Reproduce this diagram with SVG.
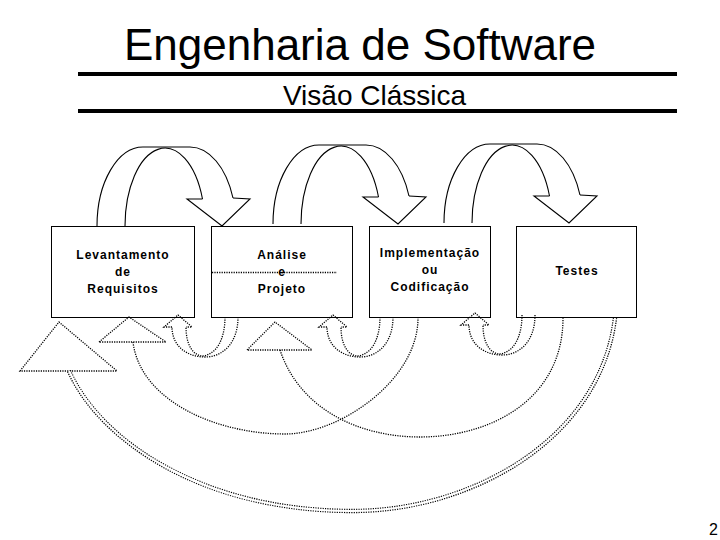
<svg xmlns="http://www.w3.org/2000/svg" xmlns:xlink="http://www.w3.org/1999/xlink" width="720" height="540" viewBox="0 0 720 540">
  <style>
    .bg { fill: #ffffff; }
    .rule { stroke: #000; stroke-width: 4; }
    .title { font-family: "Liberation Sans", Arial, sans-serif; font-size: 44px; fill: #000; text-anchor: middle; }
    .sub { font-family: "Liberation Sans", Arial, sans-serif; font-size: 28px; fill: #000; text-anchor: middle; }
    .box { fill: #fff; stroke: #000; stroke-width: 1; }
    .lbl { font-family: "Liberation Sans", Arial, sans-serif; font-size: 12px; font-weight: bold; letter-spacing: 1px; fill: #000; text-anchor: middle; }
    .solid { fill: none; stroke: #000; stroke-width: 1.1; }
    .dot { fill: none; stroke: #000; stroke-width: 1.3; stroke-dasharray: 1.2 1.2; }
    .dbl { fill: none; stroke: #000; stroke-width: 4.4; stroke-dasharray: 1.2 1.2; }
    .dblin { fill: none; stroke: #fff; stroke-width: 2; }
    .num { font-family: "Liberation Sans", Arial, sans-serif; font-size: 16px; fill: #000; text-anchor: end; }
  </style>
  <defs>
    <g id="curvedDown">
      <path class="solid" d="M97,226 A46,79 0 0 1 143,147 L190,147 A46,79 0 0 1 233,198"/>
      <path class="solid" d="M125,226 A40,78 0 0 1 202.5,199"/>
      <path class="solid" d="M202.5,199 L187,199 L222,226 L250,199 L233,198"/>
    </g>
    <g id="curvedUp">
      <path class="dot" d="M60,2 C60,28 45,42 27,42 C10,42 -6,32 -6,12"/>
      <path class="dot" d="M47,2 C47,25 38,40 24,41 C15,40 8,30 8,12"/>
      <path class="dot" d="M-6,12 L-14,12 L0,0 L14,12 L8,12"/>
    </g>
  </defs>
  <rect class="bg" x="0" y="0" width="720" height="540"/>

  <g id="header">
    <text class="title" x="360" y="60">Engenharia de Software</text>
    <line class="rule" x1="78" y1="74" x2="677" y2="74"/>
    <text class="sub" x="374.5" y="105">Visão Clássica</text>
    <line class="rule" x1="78" y1="111" x2="677" y2="111"/>
  </g>

  <g id="node-levantamento">
    <rect class="box" x="51.5" y="226.5" width="143" height="91"/>
    <text class="lbl" x="123" y="259">Levantamento</text>
    <text class="lbl" x="123" y="276">de</text>
    <text class="lbl" x="123" y="293">Requisitos</text>
  </g>

  <g id="node-analise">
    <rect class="box" x="211.5" y="226.5" width="141" height="91"/>
    <line class="dot" x1="212" y1="272.5" x2="337" y2="272.5"/>
    <text class="lbl" x="282" y="259">Análise</text>
    <text class="lbl" x="282" y="276">e</text>
    <text class="lbl" x="282" y="293">Projeto</text>
  </g>

  <g id="node-implementacao">
    <rect class="box" x="369.5" y="226.5" width="121" height="91"/>
    <text class="lbl" x="430" y="257">Implementação</text>
    <text class="lbl" x="430" y="274">ou</text>
    <text class="lbl" x="430" y="291">Codificação</text>
  </g>

  <g id="node-testes">
    <rect class="box" x="516.5" y="226.5" width="120" height="91"/>
    <text class="lbl" x="577" y="275">Testes</text>
  </g>

  <g id="connectors">
    <use xlink:href="#curvedDown" href="#curvedDown"/>
    <use xlink:href="#curvedDown" href="#curvedDown" transform="translate(176,-2)"/>
    <use xlink:href="#curvedDown" href="#curvedDown" transform="translate(347,-3)"/>

    <use xlink:href="#curvedUp" href="#curvedUp" transform="translate(178,315)"/>
    <use xlink:href="#curvedUp" href="#curvedUp" transform="translate(333,315)"/>
    <use xlink:href="#curvedUp" href="#curvedUp" transform="translate(475,313)"/>

    <path class="dot" d="M99,342 L129,317 L166,342 Z"/>
    <path class="dot" d="M133,342 C140,400 215,434 285,434 C340,434 418,380 418,318"/>

    <path class="dot" d="M247,350 L275,322 L312,350 Z"/>
    <path class="dot" d="M280,350 C300,410 360,437 420,437 C490,437 563,400 563,318"/>

    <path class="dot" d="M20,371 L59,322 L117,371 Z"/>
    <path class="dbl" d="M69,371 C100,440 200,510 350,511 C470,512 600,440 615,318"/>
    <path class="dblin" d="M69,371 C100,440 200,510 350,511 C470,512 600,440 615,318"/>
  </g>

  <text class="num" x="718" y="535">2</text>
</svg>
